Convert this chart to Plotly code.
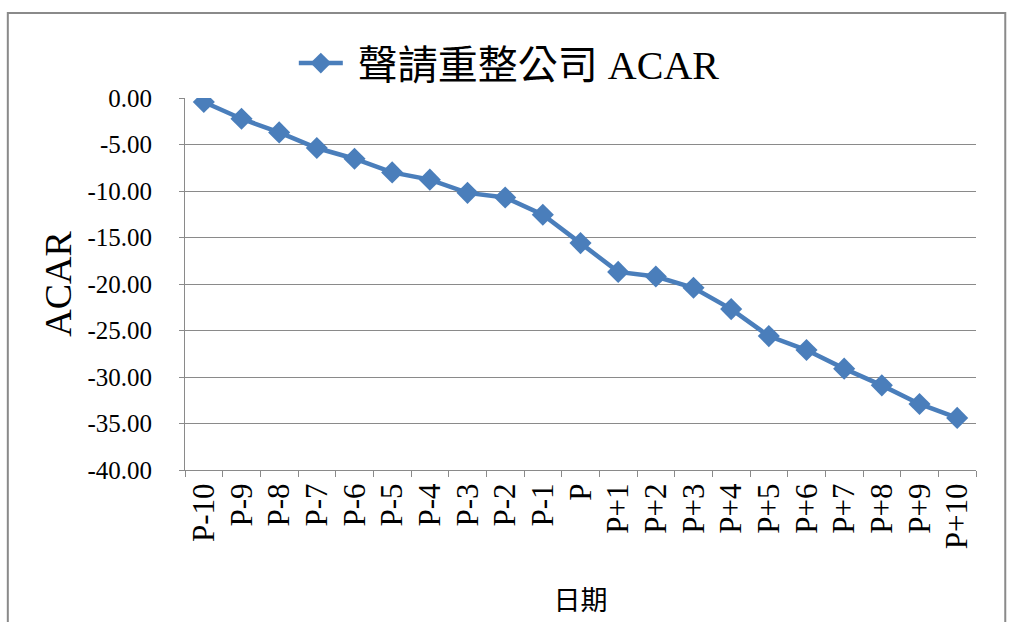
import plotly.graph_objects as go

# Event-window days around the filing date
days = ["P-10", "P-9", "P-8", "P-7", "P-6", "P-5", "P-4", "P-3", "P-2", "P-1", "P",
        "P+1", "P+2", "P+3", "P+4", "P+5", "P+6", "P+7", "P+8", "P+9", "P+10"]
# Average cumulative abnormal return for firms filing for reorganization
acar = [-0.43, -2.23, -3.70, -5.38, -6.53, -8.00, -8.78, -10.2, -10.7, -12.55, -15.6,
        -18.7, -19.2, -20.4, -22.7, -25.6, -27.1, -29.1, -30.9, -32.9, -34.4]
y_ticks = [0, -5, -10, -15, -20, -25, -30, -35, -40]
y_tick_text = ["0.00", "-5.00", "-10.00", "-15.00", "-20.00", "-25.00", "-30.00", "-35.00", "-40.00"]

SERIF = "Liberation Serif, Noto Sans CJK TC, serif"
BLUE = "#4a7ebb"
GRID = "#8a8a8a"

fig = go.Figure()
fig.add_trace(go.Scatter(
    x=days, y=acar, mode="lines+markers", name=" 聲請重整公司 ACAR",
    line=dict(color=BLUE, width=4.5),
    marker=dict(symbol="diamond", size=17, color=BLUE),
))

fig.update_layout(
    width=1009, height=622,
    margin=dict(l=185, r=33, t=98, b=152),
    paper_bgcolor="white", plot_bgcolor="white",
    font=dict(family=SERIF, color="black"),
    showlegend=True,
    legend=dict(
        x=0.41, y=1.094, xanchor="center", yanchor="middle",
        orientation="h", font=dict(size=40, family=SERIF),
        itemwidth=44, bgcolor="rgba(0,0,0,0)",
    ),
    xaxis=dict(
        type="category", range=[-0.5, len(days) - 0.5],
        tickmode="array", tickvals=days, ticktext=days,
        showgrid=False, showline=True, linecolor=GRID, linewidth=1,
        ticks="outside", tickson="boundaries", ticklen=6, tickcolor=GRID,
        tickangle=-90, tickfont=dict(size=31, family=SERIF),
        title=dict(text="日期", font=dict(size=27, family=SERIF), standoff=42),
    ),
    yaxis=dict(
        range=[-40, 0], tickvals=y_ticks, ticktext=y_tick_text,
        showgrid=True, gridcolor=GRID, gridwidth=1,
        showline=True, linecolor=GRID, linewidth=1,
        ticks="outside", ticklen=5, tickcolor=GRID,
        ticklabelstandoff=22,
        tickfont=dict(size=25, family=SERIF), zeroline=False,
        title=dict(text="ACAR", font=dict(size=38, family=SERIF), standoff=4),
    ),
)

# Outer chart border
fig.add_shape(type="rect", xref="paper", yref="paper",
              x0=-0.224, x1=1.037, y0=-0.6, y1=1.2285,
              line=dict(color=GRID, width=2), fillcolor="rgba(0,0,0,0)", layer="below")

fig.write_html("out.html")
